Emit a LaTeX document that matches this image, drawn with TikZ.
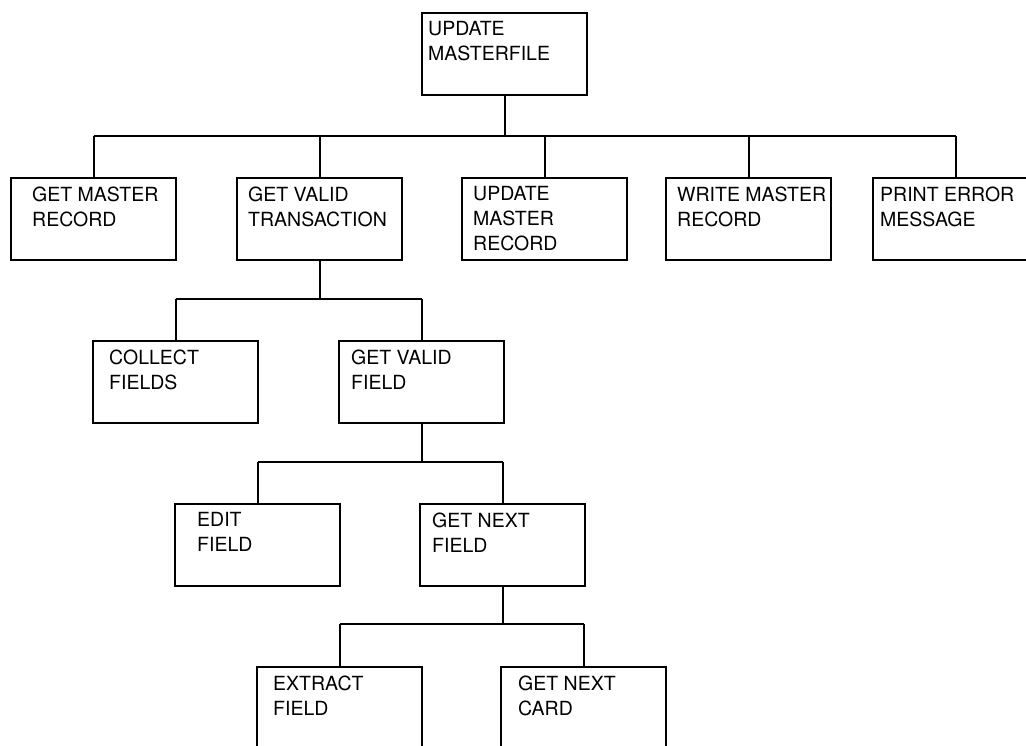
\documentclass[tikz,border=0pt]{standalone}
\usepackage{fontspec}
\setmainfont{TeX Gyre Heros}
\usetikzlibrary{calc}
\tikzset{
  boxn/.style={draw, line width=2.2pt, rectangle, anchor=north west, inner sep=0pt,
    minimum width=165pt, minimum height=82pt},
  lbl/.style={anchor=north west, inner sep=0pt, align=left,
    font=\fontsize{19.5}{25}\selectfont},
  conn/.style={line width=2.2pt}
}
\newcommand\MakeBox[5]{%
  \node[boxn] (#1) at (#2,#3) {};
  \node[lbl] (#1-t) at ($(#1.north west)+(#4,9.5)$) {#5};
}
\begin{document}
\begin{tikzpicture}[x=1pt,y=-1pt]
\clip (0,0) rectangle (1026,745);
\fill[white] (0,0) rectangle (1026,745);
% level 0
\MakeBox{top}{421}{12}{7}{UPDATE\\MASTERFILE}
% level 1
\MakeBox{gmr}{10}{177}{22}{GET MASTER\\RECORD}
\MakeBox{gvt}{236}{177}{12}{GET VALID\\TRANSACTION}
\MakeBox{umr}{461}{177}{12}{UPDATE\\MASTER\\RECORD}
\MakeBox{wmr}{665}{177}{12}{WRITE MASTER\\RECORD}
\MakeBox{pem}{872}{177}{8}{PRINT ERROR\\MESSAGE}
% level 2
\MakeBox{cf}{92}{340}{17}{COLLECT\\FIELDS}
\MakeBox{gvf}{338}{340}{13}{GET VALID\\FIELD}
% level 3
\MakeBox{ef}{174}{503}{23}{EDIT\\FIELD}
\MakeBox{gnf}{419}{503}{13}{GET NEXT\\FIELD}
% level 4
\MakeBox{xf}{256}{666}{17}{EXTRACT\\FIELD}
\MakeBox{gnc}{500}{666}{18}{GET NEXT\\CARD}
% buses
\coordinate (b1) at (0,136);
\coordinate (b2) at (0,299);
\coordinate (b3) at (0,462);
\coordinate (b4) at (0,624);
\draw[conn] (top.south) -- (top.south |- b1);
\draw[conn] (gmr.north |- b1) -- (pem.north |- b1);
\foreach \n in {gmr,gvt,umr,wmr,pem} \draw[conn] (\n.north) -- (\n.north |- b1);
\draw[conn] (gvt.south) -- (gvt.south |- b2);
\draw[conn] (cf.north |- b2) -- (gvf.north |- b2);
\foreach \n in {cf,gvf} \draw[conn] (\n.north) -- (\n.north |- b2);
\draw[conn] (gvf.south) -- (gvf.south |- b3);
\draw[conn] (ef.north |- b3) -- (gnf.north |- b3);
\foreach \n in {ef,gnf} \draw[conn] (\n.north) -- (\n.north |- b3);
\draw[conn] (gnf.south) -- (gnf.south |- b4);
\draw[conn] (xf.north |- b4) -- (gnc.north |- b4);
\foreach \n in {xf,gnc} \draw[conn] (\n.north) -- (\n.north |- b4);
\end{tikzpicture}
\end{document}
